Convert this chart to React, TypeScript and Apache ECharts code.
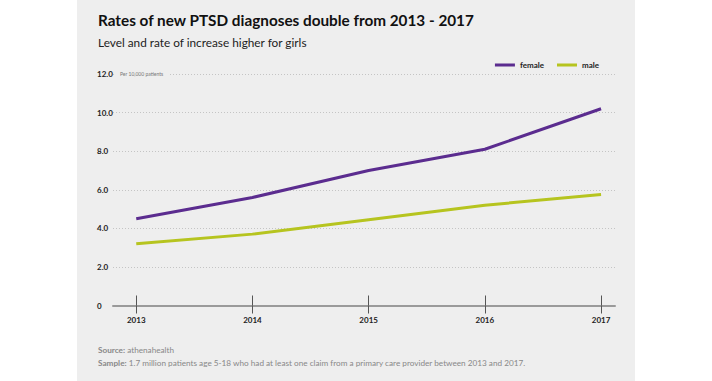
import React, { useEffect, useRef } from "react";
import * as echarts from "echarts";

const years = [2013, 2014, 2015, 2016, 2017];
const female = [4.5, 5.6, 7.0, 8.1, 10.2];
const male = [3.2, 3.7, 4.45, 5.2, 5.75];
const yTicks = [0, 2, 4, 6, 8, 10, 12];

const FONT = "Lato, 'Open Sans', sans-serif";

export default function App() {
  const ref = useRef<HTMLDivElement>(null);
  useEffect(() => {
    const chart = echarts.init(ref.current!, null, { renderer: "svg" });
    chart.setOption({
      animation: false,
      backgroundColor: "#ffffff",
      textStyle: { fontFamily: FONT },
      graphic: [
        { type: "rect", z: -10, shape: { x: 77, y: 0, width: 558, height: 381 }, style: { fill: "#eeeeee" } },
        {
          type: "text", left: 98, top: 12,
          style: { text: "Rates of new PTSD diagnoses double from 2013 - 2017", font: `bold 15.3px ${FONT}`, fill: "#111" },
        },
        {
          type: "text", left: 98, top: 36,
          style: { text: "Level and rate of increase higher for girls", font: `11.8px ${FONT}`, fill: "#222" },
        },
        { type: "rect", z: 5, shape: { x: 115, y: 71, width: 54, height: 6 }, style: { fill: "#eeeeee" } },
        {
          type: "text", z: 6, left: 120, top: 71,
          style: { text: "Per 10,000 patients", font: `5px ${FONT}`, fill: "#777" },
        },
        {
          type: "text", left: 98, top: 346,
          style: {
            text: "{b|Source:} athenahealth",
            font: `8.2px ${FONT}`, fill: "#888",
            rich: { b: { fontWeight: "bold", fontSize: 8.2, fill: "#888", fontFamily: FONT } },
          },
        },
        {
          type: "text", left: 98, top: 359,
          style: {
            text: "{b|Sample:} 1.7 million patients age 5-18 who had at least one claim from a primary care provider between 2013 and 2017.",
            font: `8.2px ${FONT}`, fill: "#888",
            rich: { b: { fontWeight: "bold", fontSize: 8.2, fill: "#888", fontFamily: FONT } },
          },
        },
      ],
      legend: {
        right: 108, top: 56, itemWidth: 20, itemHeight: 3, itemGap: 13, icon: "rect",
        textStyle: { fontSize: 8, fontWeight: "bold", color: "#222", fontFamily: FONT },
        data: ["female", "male"],
      },
      grid: { left: 113, right: 97, top: 74, bottom: 75.5, containLabel: false },
      xAxis: [
        {
          type: "value", min: 2012.8, max: 2017.12,
          axisLine: { show: true, lineStyle: { color: "#9a9a9a", width: 2 } },
          axisTick: { show: true, customValues: years, length: 8, lineStyle: { color: "#555", width: 1 } },
          axisLabel: {
            customValues: years, formatter: (v: number) => String(v), margin: 10,
            fontSize: 8, fontWeight: "bold", color: "#222", fontFamily: FONT,
          },
          splitLine: { show: false },
        },
        {
          type: "value", min: 2012.8, max: 2017.12, position: "bottom",
          axisLine: { show: false },
          axisTick: { show: true, inside: true, customValues: years, length: 10, lineStyle: { color: "#555", width: 1 } },
          axisLabel: { show: false },
          splitLine: { show: false },
        },
      ],
      yAxis: {
        type: "value", min: 0, max: 12, interval: 2,
        axisLine: { show: false },
        axisTick: { show: false },
        axisLabel: {
          align: "left", margin: 16, fontSize: 8, fontWeight: "bold", color: "#222", fontFamily: FONT,
          formatter: (v: number) => (yTicks.includes(v) ? (v === 0 ? "0" : v.toFixed(1)) : ""),
        },
        splitLine: { show: true, lineStyle: { color: "#c4c4c4", type: [1, 2], width: 1 } },
      },
      series: [
        {
          name: "female", type: "line", data: years.map((y, i) => [y, female[i]]),
          symbol: "none", lineStyle: { color: "#5b2c8f", width: 3 }, itemStyle: { color: "#5b2c8f" }, z: 3,
        },
        {
          name: "male", type: "line", data: years.map((y, i) => [y, male[i]]),
          symbol: "none", lineStyle: { color: "#b6c41f", width: 3 }, itemStyle: { color: "#b6c41f" }, z: 3,
        },
      ],
    });
    return () => chart.dispose();
  }, []);
  return <div ref={ref} style={{ position: "fixed", left: 0, top: 0, width: 712, height: 381 }} />;
}
